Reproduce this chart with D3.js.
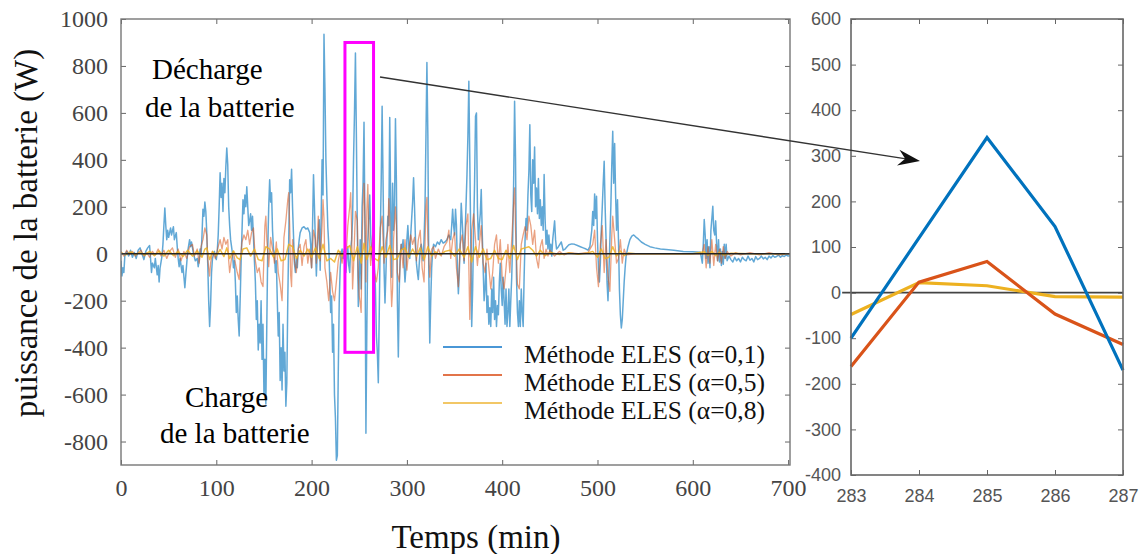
<!DOCTYPE html>
<html>
<head>
<meta charset="utf-8">
<script src="https://cdn.jsdelivr.net/npm/d3@7"></script>
<style>
  html, body { margin: 0; padding: 0; background: #fff; }
  svg { display: block; }
</style>
</head>
<body>
<svg id="chart" width="1142" height="554"></svg>
<script>
// Battery power (W) versus time (min), three ELES smoothing factors.
// Each series is a list of [time, power] samples.
const serieAlpha01 = [
  [0,-30],[1,-95],[2,-60],[3,-80],[4,-10],[6,10],[8,-10],[10,15],[12,-15],[14,5],[16,-20],[18,15],[20,25],[22,0],[24,-25],[26,10],[28,25],[30,35],[31,-20],[32,-80],[33,-40],[35,-60],[36,-20],[38,-90],[39,-50],[40,-120],[41,-60],[43,-10],[44,40],[45,120],[46,195],[47,120],[48,60],[49,100],[50,70],[52,110],[53,80],[55,115],[56,60],[58,90],[59,30],[60,-20],[61,-55],[62,-20],[64,-80],[65,-50],[67,-145],[68,-90],[69,-40],[70,10],[72,60],[73,30],[74,50],[76,0],[78,-30],[80,-20],[81,-55],[82,-30],[83,20],[84,-10],[85,80],[86,190],[87,160],[88,220],[89,180],[90,90],[91,-40],[92,-200],[93,-310],[94,-220],[95,-80],[96,-20],[98,10],[100,-25],[101,10],[102,80],[103,200],[104,345],[105,240],[106,300],[107,180],[108,320],[109,260],[110,370],[111,450],[112,380],[113,200],[114,120],[115,60],[116,30],[117,0],[118,-60],[119,-30],[120,-120],[121,-250],[122,-180],[123,-280],[124,-350],[125,-200],[126,-40],[127,100],[128,230],[129,170],[130,250],[131,200],[132,285],[133,200],[134,120],[135,140],[136,170],[137,100],[138,160],[139,70],[140,-30],[141,-120],[142,-280],[143,-200],[144,-410],[145,-300],[146,-380],[147,-200],[148,-450],[149,-300],[150,-600],[151,-450],[152,-640],[153,-300],[154,20],[155,200],[156,315],[157,220],[158,260],[159,100],[160,20],[161,0],[162,-80],[163,-30],[164,-200],[165,-350],[166,-250],[167,-540],[168,-400],[169,-580],[170,-300],[171,-500],[172,-420],[173,-650],[174,-550],[175,-200],[176,60],[177,315],[178,260],[179,360],[180,200],
  [181,80],[182,-40],[183,-80],[184,-20],[185,-60],[186,20],[187,60],[188,90],[190,110],[192,115],[194,105],[196,110],[198,90],[199,40],[200,-60],[201,120],[202,337],[203,200],[204,40],[205,-95],[206,20],[207,80],[208,145],[209,-70],[210,150],[211,400],[212,250],[213,935],[214,700],[215,400],[216,250],[217,115],[218,40],[219,-100],[220,-250],[221,-180],[222,-420],[223,-300],[224,-600],[225,-700],[226,-880],[227,-860],[228,-500],[229,-200],[230,-60],[231,0],[232,20],[233,-20],[234,10],[235,-40],[236,-80],[237,-20],[238,30],[239,-50],[240,-80],[241,20],[242,60],[243,150],[244,400],[245,600],[246,855],[247,500],[248,100],[249,-225],[250,-100],[251,60],[252,-150],[253,200],[254,300],[255,560],[256,100],[257,-765],[258,-300],[259,50],[260,150],[261,250],[262,80],[263,0],[264,-30],[265,40],[266,-60],[267,-150],[268,-350],[269,-420],[270,-550],[271,-250],[272,60],[273,300],[274,628],[275,300],[276,-60],[277,-210],[278,-80],[279,60],[280,160],[281,120],[282,580],[283,200],[284,-100],[285,300],[286,100],[287,200],[288,575],[289,300],[290,-200],[291,-440],[292,-150],
  [293,0],[294,40],[295,20],[296,60],[297,-40],[298,-120],[299,-60],[300,60],[301,120],[302,40],[303,-20],[304,80],[305,150],[306,220],[307,324],[308,200],[309,60],[310,-40],[311,-80],[312,-110],[313,-40],[314,20],[315,40],[316,10],[317,-30],[318,60],[319,200],[320,500],[321,815],[322,500],[323,-80],[324,-380],[325,-200],[326,-60],[327,10],[328,40],[330,30],[332,50],[334,40],[336,60],[338,45],[340,50],[342,60],[344,80],[346,60],[347,120],[348,190],[349,120],[350,80],[351,190],[352,120],[353,-60],[354,-170],[355,-80],[356,60],[357,215],[358,140],[359,60],[360,-40],[361,80],[362,200],[363,330],[364,500],[365,735],[366,400],[367,60],[368,-310],[369,-150],[370,100],[371,300],[372,586],[373,600],[374,200],[375,60],[376,120],[377,170],[378,274],[379,100],[380,-60],[381,-200],[382,-150],[383,-40],[384,-250],[385,-180],[386,-300],[387,-230],[388,-310],[389,-150],[390,-250],[391,-100],[392,-280],[393,-200],[394,-310],[395,-220],[396,-260],[397,-120],[398,-40],[399,-150],[400,-220],[401,-100],[402,-200],[403,-300],[404,-150],[405,-310],[406,-250],[407,-150],[408,-310],[409,-200],[410,-100],[411,60],[412,300],[413,650],[414,400],[415,-100],[416,-250],[417,-310],[418,-200],[419,-310],[420,-150],[421,-250],[422,-310],[423,-100],[424,60],[425,150],[426,100],[427,250],[428,350],[429,550],[430,250],[431,180],[432,400],[433,300],[434,455],[435,200],[436,280],[437,170],[438,320],[439,150],[440,230],[441,120],[442,200],[443,100],[444,338],[445,150],[446,40],[447,100],[448,20],[449,80],[450,10],[451,40],[452,-10],[453,60],[454,100],[455,140],[456,60],[457,20],[459,30],[462,50],[464,15],[466,20],[468,30],[470,38],[473,42],[476,40],[479,35],[482,30],[485,25],[488,20],[490,15],[492,30],[494,100],[495,180],[496,120],[497,255],[498,150],[499,245],[500,60],[501,-60],[502,-120],[503,-40],[504,100],[505,200],[506,300],[507,394],[508,200],[509,60],[510,-120],[511,-200],[512,-80],[513,60],[514,200],[515,380],[516,522],[517,300],[518,470],[519,250],[520,100],[521,230],[522,60],[523,-150],[524,-260],[525,-316],[526,-280],[527,-200],[528,-120],[529,-60],[530,-10],[532,30],[534,60],[536,75],[538,80],[540,72],[543,62],[546,50],[550,40],[555,30],[560,25],[566,20],[572,18],[580,15],[590,10],[600,8],[608,6],[610,-40],[611,40],[612,146],[613,80],[614,-20],[615,60],[616,-40],[617,30],[618,-60],[619,100],[620,150],[621,202],[622,100],[623,80],[624,140],[625,40],[626,-30],[627,60],[628,-35],[629,20],[630,-50],[631,10],[632,-45],[633,40],[634,-20],[635,40],[636,-30],[638,-10],[640,-25],[642,-35],[644,-15],[646,-30],[648,-20],[650,-35],[652,-15],[654,-25],[656,-30],[658,-10],[660,-28],[662,-20],[664,-35],[666,-12],[668,-25],[670,-20],[672,-10],[674,-22],[676,-15],[678,-25],[680,-10],[682,-18],[684,-8],[686,-15],[688,-12],[690,-5],[692,-15],[694,-8],[696,-12],[698,-5],[700,-10],[702,-8]
];

const serieAlpha05 = [
  [0,10],[3,-10],[6,15],[9,-5],[12,10],[15,-10],[18,5],[21,15],[24,-10],[27,5],[30,-15],[33,10],[36,-5],[39,20],[42,-10],[45,15],[48,-20],[51,10],[54,25],[57,-15],[60,20],[63,-30],[66,10],[69,-20],[72,30],[75,40],[77,-10],[80,20],[82,-40],[84,30],[86,60],[88,110],[90,80],[91,-20],[92,-60],[93,-95],[94,-40],[96,10],[99,-20],[102,30],[104,60],[106,20],[108,70],[110,40],[112,60],[113,-30],[114,-80],[116,-20],[118,10],[120,-40],[122,-80],[124,-110],[125,-30],[127,50],[129,80],[131,60],[133,100],[135,40],[137,90],[139,110],[141,-30],[143,-80],[145,-60],[147,-120],[149,-140],[151,120],[152,160],[153,60],[155,-55],[157,70],[159,20],[161,-40],[163,50],[165,-80],[167,-130],[169,-200],[170,-60],[171,70],[173,140],[175,230],[176,260],[177,120],[178,-90],[179,-140],[180,60],[182,-30],[184,-80],[186,20],[188,40],[190,-50],[192,30],[194,60],[196,-40],[198,20],[200,-60],[202,100],[204,60],[205,-40],[207,160],[208,80],[209,-30],[211,120],[212,230],[213,150],[214,-60],[216,-120],[218,-200],[220,-80],[222,-160],[224,-200],[226,-120],[228,-30],[230,10],[232,-40],[234,20],[236,-20],[238,120],[240,200],[241,260],[242,100],[243,-150],[244,-60],[246,180],[248,140],[249,-100],[250,-180],[251,-210],[252,-250],[253,60],[254,200],[255,300],[256,150],[257,-120],[258,185],[259,295],[260,100],[262,-50],[264,80],[266,-80],[268,-120],[270,-60],[272,110],[274,160],[276,-40],[278,60],[280,100],[281,235],[282,150],[283,-100],[284,-225],[285,-150],[286,60],[288,200],[289,120],[290,-80],[292,-120],[294,40],[296,-60],[298,60],[300,-70],[302,20],[304,80],[306,40],[308,70],[310,-30],[312,60],[314,100],[316,-60],[318,-120],[320,200],[321,240],[322,60],[324,-100],[326,20],[328,30],[330,-20],[333,20],[336,-10],[339,30],[342,50],[344,100],[346,-20],[348,60],[350,90],[352,-60],[354,-140],[356,40],[358,80],[360,-30],[362,120],[364,170],[366,-280],[367,-100],[368,100],[370,170],[372,60],[374,-50],[376,40],[378,120],[380,-40],[382,-80],[384,20],[386,-60],[388,-150],[390,-80],[392,40],[394,80],[396,-40],[398,60],[400,-100],[402,-150],[404,-60],[406,40],[408,-80],[410,60],[412,215],[413,280],[414,100],[416,-130],[418,-150],[420,40],[422,80],[424,115],[426,60],[428,160],[430,120],[432,40],[434,100],[436,-20],[438,-60],[440,30],[442,60],[444,-20],[446,20],[448,-10],[450,15],[455,-10],[460,10],[465,-5],[470,5],[480,0],[490,5],[495,40],[497,100],[499,-60],[501,-140],[503,40],[505,120],[507,-80],[509,60],[511,-100],[513,-160],[515,80],[516,160],[518,60],[520,-40],[522,-20],[524,60],[526,-40],[528,20],[530,-5],[540,0],[560,0],[580,0],[600,0],[610,0],[612,40],[614,-60],[616,30],[618,-40],[620,60],[622,-50],[624,40],[626,-30],[628,20],[630,-40],[632,30],[634,-20],[636,10],[640,-10],[645,5],[650,-5],[660,5],[670,-5],[680,5],[690,-5],[702,0]
];

const serieAlpha08 = [
  [0,5],[5,-5],[10,8],[15,-4],[20,6],[25,-6],[30,10],[35,-8],[40,12],[45,-10],[50,15],[55,-8],[60,10],[65,-12],[70,15],[75,-10],[80,12],[85,-15],[88,20],[90,25],[93,-25],[96,10],[100,-8],[104,18],[108,-12],[111,25],[114,-20],[118,12],[122,-18],[125,-25],[128,20],[132,25],[136,-10],[140,20],[144,-25],[148,-30],[152,30],[156,20],[160,-15],[164,20],[168,-30],[172,-25],[176,40],[180,30],[184,-20],[188,15],[192,-10],[196,20],[200,-15],[204,25],[208,-20],[212,40],[216,-30],[220,-20],[224,-35],[228,15],[232,-10],[236,20],[240,35],[244,-30],[248,30],[252,-40],[255,45],[258,-25],[262,30],[266,-20],[270,-30],[274,30],[278,-15],[282,35],[286,-25],[290,-20],[294,15],[298,25],[302,-15],[306,20],[310,-10],[314,25],[318,-25],[322,30],[326,-10],[330,8],[335,-5],[340,10],[345,15],[350,-10],[355,20],[360,-15],[364,30],[368,-35],[372,30],[376,-15],[380,20],[384,-25],[388,-20],[392,15],[396,-20],[400,-25],[404,15],[408,-20],[412,35],[416,-25],[420,20],[424,25],[428,30],[432,15],[436,-10],[440,15],[445,-8],[450,5],[460,-3],[470,3],[480,-2],[490,3],[495,10],[500,-15],[504,20],[508,-20],[512,-15],[516,30],[520,-10],[524,12],[528,-8],[532,3],[540,0],[560,0],[600,0],[612,8],[616,-6],[620,10],[624,-8],[628,6],[632,-5],[640,2],[660,0],[680,0],[702,0]
];

// Close-up of minutes 283 to 287
const zoomTemps = [283, 284, 285, 286, 287];
const zoomAlpha01 = [-100, 120, 340, 145, -170];
const zoomAlpha05 = [-162, 23, 68, -47, -114];
const zoomAlpha08 = [-48, 22, 15, -9, -10];

// Axis ticks
const mainXTicks = [0, 100, 200, 300, 400, 500, 600, 700];
const mainYTicks = [-800, -600, -400, -200, 0, 200, 400, 600, 800, 1000];
const zoomXTicks = [283, 284, 285, 286, 287];
const zoomYTicks = [-400, -300, -200, -100, 0, 100, 200, 300, 400, 500, 600];

const legendLabels = ["Méthode ELES (α=0,1)", "Méthode ELES (α=0,5)", "Méthode ELES (α=0,8)"];
const colors = ["#0072BD", "#D95319", "#EDB120"];

const svg = d3.select("#chart");
const serif = "'Liberation Serif', 'Times New Roman', serif";
const sans = "'Liberation Sans', Arial, sans-serif";

// ---------- main panel ----------
const M = { left: 121, right: 790, top: 19, bottom: 465 };
const x = d3.scaleLinear().domain([0, 702]).range([M.left, M.right]);
const y = d3.scaleLinear().domain([-900, 1000]).range([M.bottom, M.top]);

svg.append("defs").append("clipPath").attr("id", "clipMain")
  .append("rect").attr("x", M.left).attr("y", M.top)
  .attr("width", M.right - M.left).attr("height", M.bottom - M.top);

const line = d3.line().x(d => x(d[0])).y(d => y(d[1]));
const plot = svg.append("g").attr("clip-path", "url(#clipMain)");

[[serieAlpha01, 0, 1.5, 0.62], [serieAlpha05, 1, 1.3, 0.55], [serieAlpha08, 2, 1.5, 0.85]].forEach(([s, i, w, op]) => {
  plot.append("path").datum(s).attr("d", line)
    .attr("fill", "none").attr("stroke", colors[i])
    .attr("stroke-width", w).attr("stroke-opacity", op)
    .attr("stroke-linejoin", "round");
});

// zero reference line
plot.append("line")
  .attr("x1", x(0)).attr("x2", x(702)).attr("y1", y(0)).attr("y2", y(0))
  .attr("stroke", "#222").attr("stroke-width", 1.6);

// axes with inward ticks
const tickStyle = g => {
  g.selectAll(".domain").remove();
  g.selectAll(".tick line").attr("stroke", "#666").attr("stroke-width", 1);
};
svg.append("g").attr("transform", `translate(0,${M.bottom})`)
  .call(d3.axisBottom(x).tickValues(mainXTicks).tickSizeInner(-5).tickSizeOuter(0).tickPadding(14).tickFormat(d => String(d)))
  .call(tickStyle)
  .call(g => g.selectAll("text").attr("font-family", serif).attr("font-size", 24).attr("fill", "#444"));
svg.append("g").attr("transform", `translate(0,${M.top})`)
  .call(d3.axisTop(x).tickValues(mainXTicks).tickSizeInner(-5).tickSizeOuter(0).tickFormat(""))
  .call(tickStyle);
svg.append("g").attr("transform", `translate(${M.left},0)`)
  .call(d3.axisLeft(y).tickValues(mainYTicks).tickSizeInner(-5).tickSizeOuter(0).tickPadding(13).tickFormat(d => String(d)))
  .call(tickStyle)
  .call(g => g.selectAll("text").attr("font-family", serif).attr("font-size", 24).attr("fill", "#444"));
svg.append("g").attr("transform", `translate(${M.right},0)`)
  .call(d3.axisRight(y).tickValues(mainYTicks).tickSizeInner(-5).tickSizeOuter(0).tickFormat(""))
  .call(tickStyle);

svg.append("rect").attr("x", M.left).attr("y", M.top)
  .attr("width", M.right - M.left).attr("height", M.bottom - M.top)
  .attr("fill", "none").attr("stroke", "#777").attr("stroke-width", 1.4);

// highlighted window
svg.append("rect")
  .attr("x", x(235)).attr("y", y(900))
  .attr("width", x(265) - x(235)).attr("height", y(-420) - y(900))
  .attr("fill", "none").attr("stroke", "#FF00FF").attr("stroke-width", 3);

// axis titles
svg.append("text").attr("x", 476).attr("y", 548).attr("text-anchor", "middle")
  .attr("font-family", serif).attr("font-size", 33).attr("fill", "#111").text("Temps (min)");
svg.append("text").attr("transform", "translate(37,233) rotate(-90)").attr("text-anchor", "middle")
  .attr("font-family", serif).attr("font-size", 33).attr("fill", "#111").text("puissance de la batterie (W)");

// annotations
const note = (tx, ty, s) => svg.append("text").attr("x", tx).attr("y", ty)
  .attr("font-family", serif).attr("font-size", 29).attr("fill", "#000").text(s);
note(152, 79, "Décharge");
note(145, 117, "de la batterie");
note(185, 407, "Charge");
note(160, 443, "de la batterie");

// legend
const legendY = [347, 375, 403];
const legendCol = ["#4a97d6", "#e2744a", "#f2c766"];
legendLabels.forEach((lab, i) => {
  svg.append("line").attr("x1", 443).attr("x2", 502).attr("y1", legendY[i]).attr("y2", legendY[i])
    .attr("stroke", legendCol[i]).attr("stroke-width", 2);
  svg.append("text").attr("x", 524).attr("y", legendY[i] + 16)
    .attr("font-family", serif).attr("font-size", 25.5).attr("fill", "#111").text(lab);
});

// ---------- close-up panel ----------
const Z = { left: 851, right: 1123, top: 19, bottom: 475 };
const zx = d3.scaleLinear().domain([283, 287]).range([Z.left, Z.right]);
const zy = d3.scaleLinear().domain([-400, 600]).range([Z.bottom, Z.top]);

svg.append("g").attr("transform", `translate(0,${Z.bottom})`)
  .call(d3.axisBottom(zx).tickValues(zoomXTicks).tickSizeInner(-5).tickSizeOuter(0).tickPadding(14).tickFormat(d => String(d)))
  .call(tickStyle)
  .call(g => g.selectAll("text").attr("font-family", sans).attr("font-size", 18).attr("fill", "#555"));
svg.append("g").attr("transform", `translate(0,${Z.top})`)
  .call(d3.axisTop(zx).tickValues(zoomXTicks).tickSizeInner(-5).tickSizeOuter(0).tickFormat(""))
  .call(tickStyle);
svg.append("g").attr("transform", `translate(${Z.left},0)`)
  .call(d3.axisLeft(zy).tickValues(zoomYTicks).tickSizeInner(-5).tickSizeOuter(0).tickPadding(10).tickFormat(d => String(d)))
  .call(tickStyle)
  .call(g => g.selectAll("text").attr("font-family", sans).attr("font-size", 18).attr("fill", "#555"));
svg.append("g").attr("transform", `translate(${Z.right},0)`)
  .call(d3.axisRight(zy).tickValues(zoomYTicks).tickSizeInner(-5).tickSizeOuter(0).tickFormat(""))
  .call(tickStyle);

svg.append("line").attr("x1", zx(282.87)).attr("x2", zx(287)).attr("y1", zy(0)).attr("y2", zy(0))
  .attr("stroke", "#444").attr("stroke-width", 1.8);

const zline = d3.line().x((d, i) => zx(zoomTemps[i])).y(d => zy(d));
[zoomAlpha08, zoomAlpha05, zoomAlpha01].forEach((s, k) => {
  svg.append("path").datum(s).attr("d", zline)
    .attr("fill", "none").attr("stroke", colors[2 - k]).attr("stroke-width", 3.2)
    .attr("stroke-linejoin", "miter");
});

svg.append("rect").attr("x", Z.left).attr("y", Z.top)
  .attr("width", Z.right - Z.left).attr("height", Z.bottom - Z.top)
  .attr("fill", "none").attr("stroke", "#666").attr("stroke-width", 1.6);

// pointer from the highlighted window to the close-up
const ax0 = 380, ay0 = 77, ax1 = 920, ay1 = 161;
const ang = Math.atan2(ay1 - ay0, ax1 - ax0);
svg.append("line").attr("x1", ax0).attr("y1", ay0)
  .attr("x2", ax1 - 14 * Math.cos(ang)).attr("y2", ay1 - 14 * Math.sin(ang))
  .attr("stroke", "#333").attr("stroke-width", 1.4);
const head = [[0, 0], [-22, -8], [-15, 0], [-22, 8]];
svg.append("path")
  .attr("d", "M" + head.map(p => p.join(",")).join("L") + "Z")
  .attr("transform", `translate(${ax1},${ay1}) rotate(${ang * 180 / Math.PI})`)
  .attr("fill", "#111");
</script>
</body>
</html>
